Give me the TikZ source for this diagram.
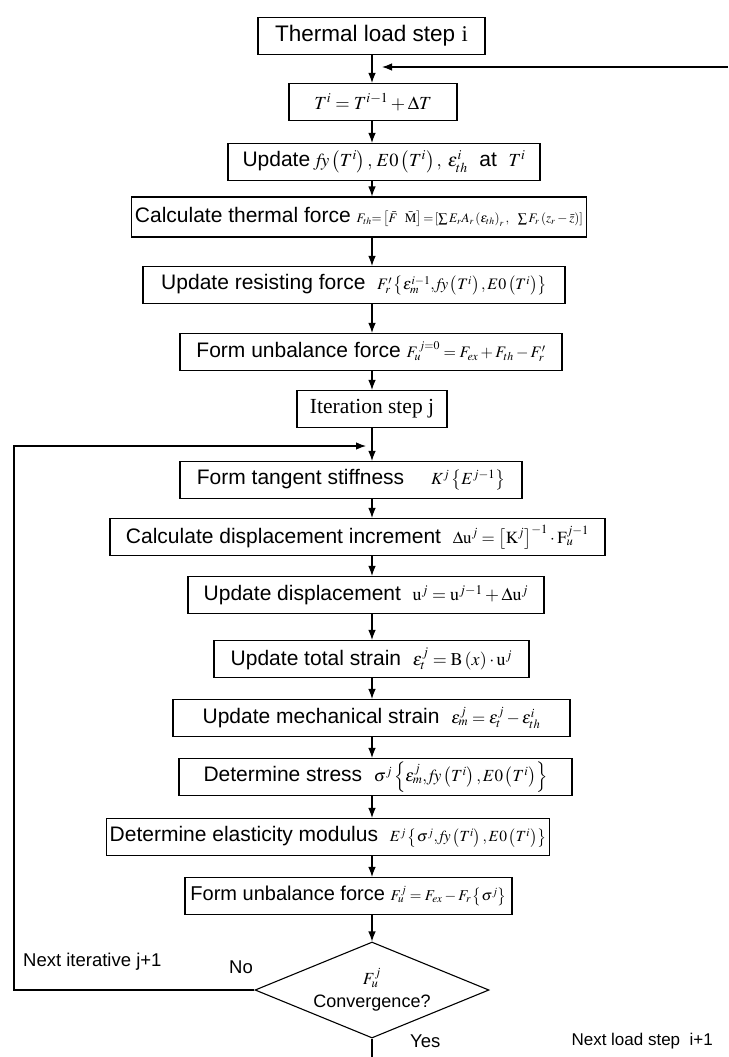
\documentclass[tikz,border=0pt]{standalone}
\usepackage{mathptmx}
\usepackage[no-math]{fontspec}
\setmainfont{Liberation Sans}
\newfontfamily\serifface{Liberation Serif}
\usetikzlibrary{arrows.meta,shapes.geometric}
% formula set at its own size inside a box
\newcommand\mth[2]{{\fontsize{#1}{#1}\selectfont$#2$}}
\tikzset{
  flowbox/.style={draw, line width=1.1pt, minimum height=37pt, inner sep=3pt,
    font=\fontsize{21}{25}\selectfont},
  decision/.style={draw, diamond, line width=1.1pt, minimum width=234pt,
    minimum height=96pt, inner sep=0pt, aspect=2.5, align=center,
    font=\fontsize{18}{21}\selectfont},
  link/.style={line width=1.1pt, -{Latex[length=10pt,width=7.5pt]}},
  plain/.style={line width=1.1pt},
  lbl/.style={font=\fontsize{18.5}{22}\selectfont, inner sep=0pt},
}
\begin{document}
\begin{tikzpicture}[x=1pt,y=-1pt]
\useasboundingbox (0,0) rectangle (728,1057);

% outer loop over thermal load steps
\node[flowbox, minimum width=227pt, font=\fontsize{22.5}{26}\selectfont] (load) at (371.5,36)
  {Thermal load step {\serifface i}};
\node[flowbox, minimum width=168pt] (temp) at (373,102) {\mth{18.5}{T^i = T^{i-1} + \Delta T}};
\node[flowbox, minimum width=312pt] (props) at (384,162)
  {Update \mth{18.5}{\mathit{fy}\left(T^i\right),\,E0\left(T^i\right),\;\varepsilon^i_{th}}\ \ at\ \ \mth{18.5}{T^i}};
\node[flowbox, minimum width=454pt, minimum height=40pt] (thforce) at (359,217)
  {Calculate thermal force \mth{13}{F_{th} {=} \left[\bar F\ \ \bar{\mathrm M}\right] {=} \left[\sum E_r A_r\left(\varepsilon_{th}\right)_r,\ \ \sum F_r\left(z_r - \bar z\right)\right]}};
\node[flowbox, minimum width=422pt] (resist) at (354,285)
  {Update resisting force \ \mth{16}{F'_r\left\{\varepsilon^{i-1}_m, \mathit{fy}\left(T^i\right), E0\left(T^i\right)\right\}}};
\node[flowbox, minimum width=382pt] (unbal0) at (371,352)
  {Form unbalance force \mth{16}{F^{\,j=0}_u = F_{ex} + F_{th} - F'_r}};
\node[flowbox, minimum width=150pt, font=\fontsize{21.5}{25}\serifface] (iter) at (372,409) {Iteration step j};

% inner loop over iterations
\node[flowbox, minimum width=342pt] (tangent) at (351,480)
  {Form tangent stiffness \quad \mth{17}{K^j\left\{E^{j-1}\right\}}};
\node[flowbox, minimum width=495pt] (dinc) at (357.5,537)
  {Calculate displacement increment \ \mth{17}{\Delta\mathrm{u}^j = \left[\mathrm{K}^j\right]^{-1}\cdot\mathrm{F}^{j-1}_u}};
\node[flowbox, minimum width=356pt] (disp) at (366,595)
  {Update displacement \ \mth{18}{\mathrm{u}^j = \mathrm{u}^{j-1} + \Delta\mathrm{u}^j}};
\node[flowbox, minimum width=315pt] (tstrain) at (371.5,659)
  {Update total strain \ \mth{18}{\varepsilon^j_t = \mathrm{B}\left(x\right)\cdot\mathrm{u}^j}};
\node[flowbox, minimum width=397pt] (mstrain) at (371.5,718)
  {Update mechanical strain \ \mth{17}{\varepsilon^j_m = \varepsilon^j_t - \varepsilon^i_{th}}};
\node[flowbox, minimum width=393pt] (stress) at (375.5,777)
  {Determine stress \ \mth{17}{\sigma^j\left\{\varepsilon^j_m, \mathit{fy}\left(T^i\right), E0\left(T^i\right)\right\}}};
\node[flowbox, minimum width=440pt] (modulus) at (328,837)
  {Determine elasticity modulus \ \mth{15.5}{E^j\left\{\sigma^j, \mathit{fy}\left(T^i\right), E0\left(T^i\right)\right\}}};
\node[flowbox, minimum width=327pt, font=\fontsize{20}{24}\selectfont] (unbal) at (348.5,896)
  {Form unbalance force \mth{15}{F^j_u = F_{ex} - F_r\left\{\sigma^j\right\}}};
\node[decision] (conv) at (372,990) {\mth{17}{F^j_u}\\[2pt] Convergence?};

% helper points for the loop-back lines
\coordinate (nextload) at (728,67);
\coordinate (loadjoin) at (382,67);
\coordinate (itercorner) at (14,446);
\coordinate (iterjoin) at (366,446);
\coordinate (exit) at (372,1057);

% main flow
\draw[link] (load.south -| 372,0) -- (temp.north -| 372,0);
\draw[link] (temp.south -| 372,0) -- (props.north -| 372,0);
\draw[link] (props.south -| 372,0) -- (thforce.north -| 372,0);
\draw[link] (thforce.south -| 372,0) -- (resist.north -| 372,0);
\draw[link] (resist.south -| 372,0) -- (unbal0.north -| 372,0);
\draw[link] (unbal0.south -| 372,0) -- (iter.north -| 372,0);
\draw[link] (iter.south -| 372,0) -- (tangent.north -| 372,0);
\draw[link] (tangent.south -| 372,0) -- (dinc.north -| 372,0);
\draw[link] (dinc.south -| 372,0) -- (disp.north -| 372,0);
\draw[link] (disp.south -| 372,0) -- (tstrain.north -| 372,0);
\draw[link] (tstrain.south -| 372,0) -- (mstrain.north -| 372,0);
\draw[link] (mstrain.south -| 372,0) -- (stress.north -| 372,0);
\draw[link] (stress.south -| 372,0) -- (modulus.north -| 372,0);
\draw[link] (modulus.south -| 372,0) -- (unbal.north -| 372,0);
\draw[link] (unbal.south -| 372,0) -- (conv.north);

% loop back to the next load step and the next iteration
\draw[link] (nextload) -- (loadjoin);
\draw[link] (conv.west) -| (itercorner) -- (iterjoin);
\draw[plain] (conv.south) -- (exit);

% branch labels
\node[lbl, anchor=west] (lnext) at (23,962) {Next iterative j+1};
\node[lbl, anchor=west] (lno) at (229,967) {No};
\node[lbl, anchor=west] (lyes) at (410,1041) {Yes};
\node[lbl, anchor=east, font=\fontsize{17}{20}\selectfont] (lload) at (713,1041) {Next load step \ i+1};
\end{tikzpicture}
\end{document}
